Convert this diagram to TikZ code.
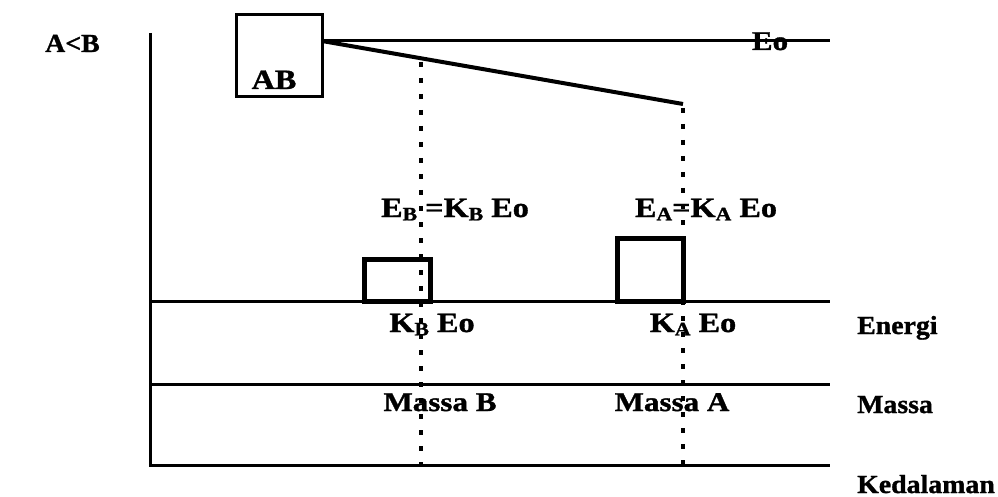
\documentclass[tikz,border=0pt]{standalone}
\usepackage{fontspec}
\setmainfont{Liberation Serif}
\newfontfamily\widefont[FakeStretch=1.15,FakeBold=1.2]{Liberation Serif}
\newfontfamily\sidefont[FakeStretch=1.07,FakeBold=1.2]{Liberation Serif}
\newcommand{\sbx}[1]{\raisebox{-0.12em}{\fontsize{19}{20}\selectfont #1}}
\begin{document}
\begin{tikzpicture}[x=1pt,y=-1pt,
  axis/.style={line width=3pt},
  dotline/.style={line width=4pt, dash pattern=on 5pt off 11pt},
  bigbox/.style={draw, line width=3pt, minimum width=86pt, minimum height=82pt, inner sep=0pt},
  smallbox/.style={draw, line width=5pt, minimum width=66pt, inner sep=0pt},
  clbl/.style={font=\fontsize{28}{30}\widefont\bfseries, inner sep=0pt},
  mlbl/.style={font=\fontsize{27}{30}\widefont\bfseries, inner sep=0pt},
  slbl/.style={font=\fontsize{26}{30}\sidefont\bfseries, inner sep=0pt}]
\useasboundingbox (0,0) rectangle (998,497);
% axes
\coordinate (top) at (150,33);
\coordinate (orig) at (150,465);
\coordinate (bend) at (830,465);
\draw[axis] (top) -- (orig) -- (bend);
\coordinate (e0) at (150,301);
\coordinate (e1) at (830,301);
\coordinate (m0) at (150,384);
\coordinate (m1) at (830,384);
\draw[axis] (e0) -- (e1);
\draw[axis] (m0) -- (m1);
% AB box
\node[bigbox] (ab) at (279,56) {};
\node[clbl, anchor=base] (abt) at (274,89) {AB};
\coordinate (abr) at (322,41);
\coordinate (eoend) at (830,41);
\draw[axis] (abr) -- (eoend);
\node[slbl, font=\fontsize{27}{30}\widefont\bfseries, anchor=base] (eo) at (770,50) {Eo};
\coordinate (sa) at (683,104);
\draw[line width=4pt] (abr) -- (sa);
% dotted lines
\coordinate (db0) at (421,62);
\coordinate (db1) at (421,465);
\coordinate (da0) at (683,108);
\coordinate (da1) at (683,465);
\draw[dotline] (db0) -- (db1);
\draw[dotline] (da0) -- (da1);
% small boxes
\node[smallbox, minimum height=42pt] (bb) at (397,280) {};
\node[smallbox, minimum height=63pt] (ba) at (650,269.5) {};
% labels
\node[slbl, anchor=base west] (altb) at (45,52) {A<B};
\node[clbl, anchor=base] (eb) at (455,217) {E\sbx{B} =K\sbx{B} Eo};
\node[clbl, anchor=base] (ea) at (706,217) {E\sbx{A}=K\sbx{A} Eo};
\node[clbl, anchor=base] (kb) at (432,332) {K\sbx{B} Eo};
\node[clbl, anchor=base] (ka) at (693,332) {K\sbx{A} Eo};
\node[mlbl, anchor=base] (mb) at (440,411) {Massa B};
\node[mlbl, anchor=base] (ma) at (672,411) {Massa A};
\node[slbl, anchor=base west] (en) at (857,334) {Energi};
\node[slbl, anchor=base west] (ms) at (857,413) {Massa};
\node[slbl, anchor=base west] (kd) at (857,493) {Kedalaman};
\end{tikzpicture}
\end{document}
